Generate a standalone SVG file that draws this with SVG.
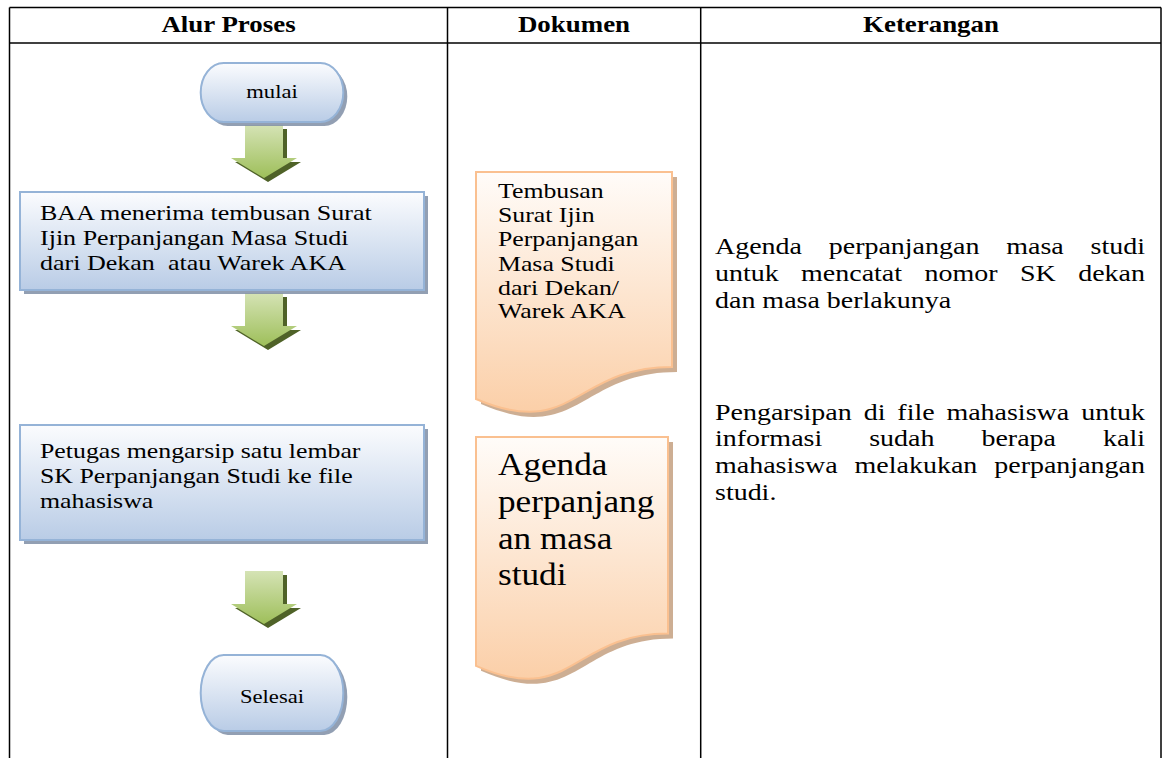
<svg xmlns="http://www.w3.org/2000/svg" xmlns:xlink="http://www.w3.org/1999/xlink" width="1163" height="758" viewBox="0 0 1163 758">
<style>
.grid{stroke:#000;stroke-width:1.5;fill:none}
.hdr{font-family:"Liberation Serif","Times New Roman",serif;font-weight:bold;font-size:23px;fill:#000;text-anchor:middle}
.tr{font-family:"Liberation Serif","Times New Roman",serif;font-size:23.5px;fill:#000}
.tb{font-family:"Liberation Serif","Times New Roman",serif;font-size:21.7px;fill:#000}
.tt{font-family:"Liberation Serif","Times New Roman",serif;font-size:19px;fill:#000;text-anchor:middle}
.td{font-family:"Liberation Serif","Times New Roman",serif;font-size:21.5px;fill:#000}
.tg{font-family:"Liberation Serif","Times New Roman",serif;font-size:32px;fill:#000}
.box{fill:url(#gBlue);stroke:#95b3d7;stroke-width:2}
.bshadow{fill:#7f8ea6;opacity:0.85}
.doc{fill:url(#gPeach);stroke:#fac090;stroke-width:2}
.dshadow{fill:#c09a78;opacity:0.8}
.arr{fill:url(#gGreen)}
.ashadow{fill:#4f6228}
</style>
<defs>
<linearGradient id="gBlue" x1="0" y1="0" x2="0" y2="1">
<stop offset="0" stop-color="#fbfcfe"/>
<stop offset="1" stop-color="#b9cce6"/>
</linearGradient>
<linearGradient id="gPeach" x1="0" y1="0" x2="0" y2="1">
<stop offset="0" stop-color="#fffcf9"/>
<stop offset="1" stop-color="#fbcfa8"/>
</linearGradient>
<linearGradient id="gGreen" x1="0" y1="0" x2="0" y2="1">
<stop offset="0" stop-color="#d5e3b5"/>
<stop offset="1" stop-color="#9ebf5a"/>
</linearGradient>
<path id="arrowShape" d="M-19,0 H19 V33 H33 L0,53 L-33,33 H-19 Z"/>
</defs>

<g id="table">
<line class="grid" x1="9.5" y1="7.5" x2="1161" y2="7.5"/>
<line class="grid" x1="9.5" y1="43" x2="1161" y2="43"/>
<line class="grid" x1="9.5" y1="7.5" x2="9.5" y2="758"/>
<line class="grid" x1="447.5" y1="7.5" x2="447.5" y2="758"/>
<line class="grid" x1="700.7" y1="7.5" x2="700.7" y2="758"/>
<line class="grid" x1="1161" y1="7.5" x2="1161" y2="758"/>
<text class="hdr" x="228.5" y="32.5" transform="matrix(1.17 0 0 1 -38.85 0)">Alur Proses</text>
<text class="hdr" x="574" y="32.5" transform="matrix(1.17 0 0 1 -97.58 0)">Dokumen</text>
<text class="hdr" x="931" y="32.5" transform="matrix(1.17 0 0 1 -158.27 0)">Keterangan</text>
</g>

<g id="connectors">
<use href="#arrowShape" class="ashadow" transform="translate(268,129)"/>
<use href="#arrowShape" class="arr" transform="translate(264,125)"/>
<use href="#arrowShape" class="ashadow" transform="translate(268,297)"/>
<use href="#arrowShape" class="arr" transform="translate(264,293)"/>
<use href="#arrowShape" class="ashadow" transform="translate(268,575)"/>
<use href="#arrowShape" class="arr" transform="translate(264,571)"/>
</g>

<g id="mulai">
<path class="bshadow" d="M227.7,67 H324.3 A23,29.5 0 0 1 324.3,126 H227.7 A23,29.5 0 0 1 227.7,67 Z"/>
<path class="box" d="M223.7,63 H320.3 A23,29.5 0 0 1 320.3,122 H223.7 A23,29.5 0 0 1 223.7,63 Z"/>
<text class="tt" x="272" y="98" transform="matrix(1.19 0 0 1 -51.68 0)">mulai</text>
</g>

<g id="baa">
<rect class="bshadow" x="24" y="196" width="404" height="98"/>
<rect class="box" x="20" y="192" width="404" height="98"/>
<g transform="matrix(1.2 0 0 1 -8 0)">
<text class="tb" x="40" y="220.5">BAA menerima tembusan Surat</text>
<text class="tb" x="40" y="245.5">Ijin Perpanjangan Masa Studi</text>
<text class="tb" x="40" y="270" xml:space="preserve">dari Dekan  atau Warek AKA</text>
</g>
</g>

<g id="petugas">
<rect class="bshadow" x="24" y="429" width="404" height="115"/>
<rect class="box" x="20" y="425" width="404" height="115"/>
<g transform="matrix(1.19 0 0 1 -7.6 0)">
<text class="tb" x="40" y="458.5">Petugas mengarsip satu lembar</text>
<text class="tb" x="40" y="483">SK Perpanjangan Studi ke file</text>
<text class="tb" x="40" y="508.5">mahasiswa</text>
</g>
</g>

<g id="selesai">
<path class="bshadow" d="M227.7,659 H324.3 A23,38 0 0 1 324.3,735 H227.7 A23,38 0 0 1 227.7,659 Z"/>
<path class="box" d="M223.7,655 H320.3 A23,38 0 0 1 320.3,731 H223.7 A23,38 0 0 1 223.7,655 Z"/>
<text class="tt" x="272" y="703" transform="matrix(1.19 0 0 1 -51.68 0)">Selesai</text>
</g>

<g id="doc-tembusan">
<path class="dshadow" d="M481,177 H677 V371.9 C579,371.9 579,446 481,404 Z"/>
<path class="doc" d="M476,172 H672 V366.9 C574,366.9 574,441 476,399 Z"/>
<g transform="matrix(1.2 0 0 1 -99.6 0)">
<text class="td" x="498" y="198.5">Tembusan</text>
<text class="td" x="498" y="222.5">Surat Ijin</text>
<text class="td" x="498" y="246.5">Perpanjangan</text>
<text class="td" x="498" y="271">Masa Studi</text>
<text class="td" x="498" y="295">dari Dekan/</text>
<text class="td" x="498" y="318.5">Warek AKA</text>
</g>
</g>

<g id="doc-agenda">
<path class="dshadow" d="M481,442 H673 V638.5 C577,638.5 577,713.2 481,670.8 Z"/>
<path class="doc" d="M476,437 H668 V633.5 C572,633.5 572,708.2 476,665.8 Z"/>
<g transform="matrix(1.1 0 0 1 -49.8 0)">
<text class="tg" x="498" y="475">Agenda</text>
<text class="tg" x="498" y="512">perpanjang</text>
<text class="tg" x="498" y="549">an masa</text>
<text class="tg" x="498" y="585">studi</text>
</g>
</g>

<g id="ket-agenda" transform="matrix(1.191 0 0 1 -136.57 0)">
<text class="tr" x="715" y="254">Agenda</text>
<text class="tr" x="810.5" y="254">perpanjangan</text>
<text class="tr" x="959.6" y="254">masa</text>
<text class="tr" x="1076" y="254" text-anchor="end">studi</text>
<text class="tr" x="715" y="281">untuk</text>
<text class="tr" x="787.3" y="281">mencatat</text>
<text class="tr" x="890.9" y="281">nomor</text>
<text class="tr" x="971" y="281">SK</text>
<text class="tr" x="1076" y="281" text-anchor="end">dekan</text>
<text class="tr" x="715" y="308">dan masa berlakunya</text>
</g>

<g id="ket-arsip" transform="matrix(1.191 0 0 1 -136.57 0)">
<text class="tr" x="715" y="420">Pengarsipan</text>
<text class="tr" x="839.9" y="420">di</text>
<text class="tr" x="868.1" y="420">file</text>
<text class="tr" x="909.3" y="420">mahasiswa</text>
<text class="tr" x="1076" y="420" text-anchor="end">untuk</text>
<text class="tr" x="715" y="446.5">informasi</text>
<text class="tr" x="844.5" y="446.5">sudah</text>
<text class="tr" x="938.7" y="446.5">berapa</text>
<text class="tr" x="1076" y="446.5" text-anchor="end">kali</text>
<text class="tr" x="715" y="473">mahasiswa</text>
<text class="tr" x="832.2" y="473">melakukan</text>
<text class="tr" x="1076" y="473" text-anchor="end">perpanjangan</text>
<text class="tr" x="715" y="500">studi.</text>
</g>
</svg>
